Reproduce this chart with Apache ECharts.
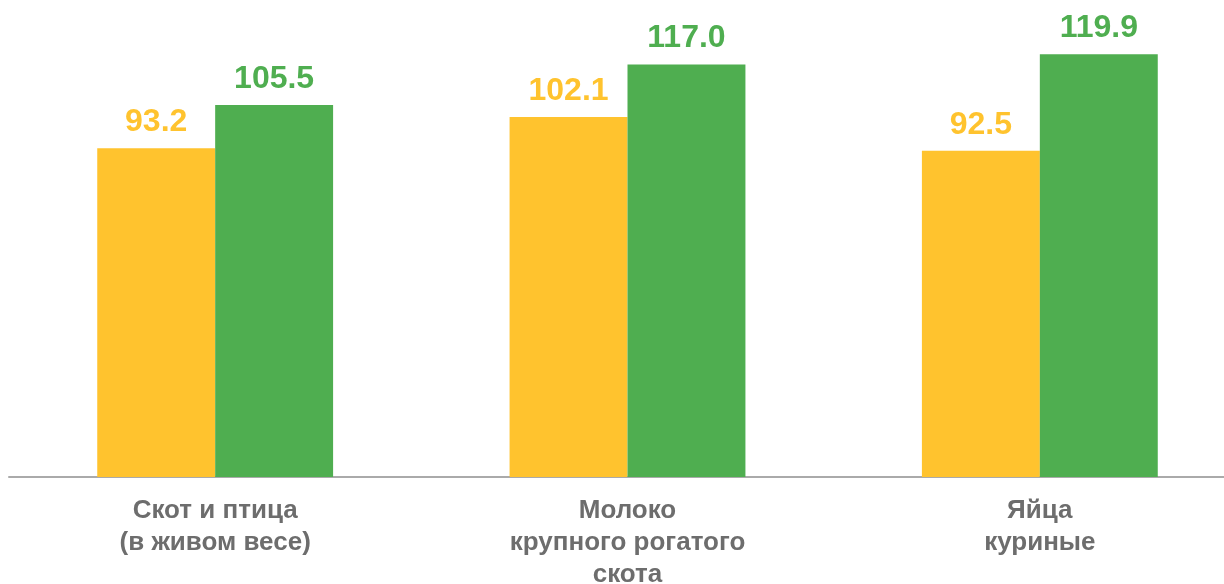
<!DOCTYPE html>
<html><head><meta charset="utf-8">
<script src="https://cdn.jsdelivr.net/npm/echarts@6/dist/echarts.min.js"></script>
<style>html,body{margin:0;padding:0;background:#fff}#c{width:1224px;height:584px}</style>
</head><body><div id="c"></div>
<script>
const categories = ['Скот и птица\n(в живом весе)', 'Молоко\nкрупного рогатого\nскота', 'Яйца\nкуриные'];
const seriesA = [93.2, 102.1, 92.5];
const seriesB = [105.5, 117.0, 119.9];
const chart = echarts.init(document.getElementById('c'), null, {renderer: 'canvas'});
const labelFont = {fontFamily: 'Liberation Sans, Arial, sans-serif', fontWeight: 'bold', fontSize: 32};
chart.setOption({
  animation: false,
  grid: {left: 9, right: -22, top: 53.8, bottom: 107, containLabel: false, outerBoundsMode: 'none'},
  xAxis: {
    type: 'category', data: categories,
    axisLine: {lineStyle: {color: '#aaaaaa', width: 2}},
    axisTick: {show: false},
    axisLabel: {color: '#6d6d6d', fontFamily: 'Liberation Sans, Arial, sans-serif', fontWeight: 'bold', fontSize: 26, lineHeight: 32, margin: 18, interval: 0}
  },
  yAxis: {type: 'value', min: 0, max: 120, show: false, splitLine: {show: false}},
  series: [
    {type: 'bar', data: seriesA, barGap: '0%', barCategoryGap: '42.8%', itemStyle: {color: '#FFC32E'},
     label: Object.assign({show: true, position: 'top', distance: 10, color: '#FFC32E', formatter: p => p.value.toFixed(1)}, labelFont)},
    {type: 'bar', data: seriesB, barGap: '0%', barCategoryGap: '42.8%', itemStyle: {color: '#4FAE50'},
     label: Object.assign({show: true, position: 'top', distance: 10, color: '#4FAE50', formatter: p => p.value.toFixed(1)}, labelFont)}
  ]
});
</script></body></html>
